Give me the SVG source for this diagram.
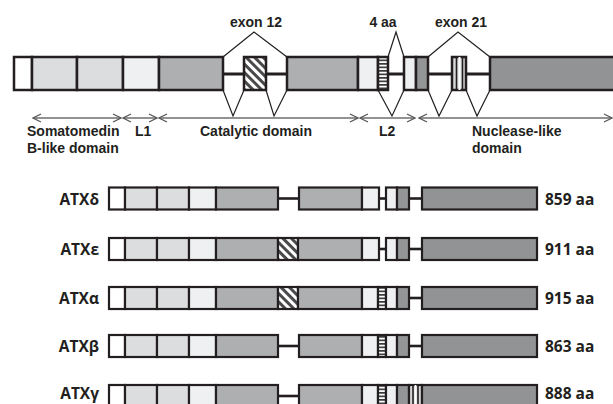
<svg xmlns="http://www.w3.org/2000/svg" width="613" height="404" viewBox="0 0 613 404">
<style>
.top rect{stroke:#231f20;stroke-width:2.5}
.iso rect{stroke:#231f20;stroke-width:2.2}
.w{fill:#ffffff}
.lg{fill:#dcdddf}
.vl{fill:#eff0f1}
.g{fill:#aeafb1}
.g2{fill:#949597}
.dg{fill:#929395}
.hatch{fill:url(#diag)}
.hs{fill:url(#hstr)}
.link{stroke:#231f20;stroke-width:3;fill:none}
.splice{stroke:#231f20;stroke-width:1.2;fill:none;stroke-linejoin:miter}
.dom{stroke:#6d6e70;stroke-width:1.3;fill:none;marker-start:url(#chev);marker-end:url(#chev)}
.t{font-family:"Liberation Sans",Arial,sans-serif;font-weight:bold;font-size:14px;fill:#231f20}
.lab{font-family:"Open Sans","Liberation Sans",sans-serif;font-weight:bold;font-size:15.5px;fill:#231f20}
</style>
<defs>
<pattern id="diag" patternUnits="userSpaceOnUse" width="6" height="6" patternTransform="rotate(-45)">
<rect x="0" y="0" width="6" height="6" fill="#ffffff"/>
<rect x="0" y="0" width="3" height="6" fill="#4a4a4c"/>
</pattern>
<pattern id="hstr" patternUnits="userSpaceOnUse" width="4" height="3.5">
<rect x="0" y="0" width="4" height="3.5" fill="#ffffff"/>
<rect x="0" y="0" width="4" height="1.7" fill="#3a3a3c"/>
</pattern>
<marker id="chev" viewBox="0 0 10 10" refX="9" refY="5" markerWidth="10" markerHeight="10" markerUnits="userSpaceOnUse" orient="auto-start-reverse">
<path d="M1,1 L9,5 L1,9" fill="none" stroke="#555557" stroke-width="1.2"/>
</marker>
</defs>

<!-- connectors: linker lines and splicing lines -->
<g id="connectors">
<line class="link" x1="223" y1="74" x2="287" y2="74"/>
<line class="link" x1="388" y1="74" x2="404" y2="74"/>
<line class="link" x1="428" y1="74" x2="490" y2="74"/>
<polyline class="splice" points="223,57 254,32 287,57"/>
<polyline class="splice" points="223,90 233,116 244,90"/>
<polyline class="splice" points="266,90 274,116 287,90"/>
<polyline class="splice" points="388,57 396,32 404,57"/>
<polyline class="splice" points="378,90 392,116 404,90"/>
<polyline class="splice" points="428,57 458,32 490,57"/>
<polyline class="splice" points="428,90 439,116 452,90"/>
<polyline class="splice" points="466,90 477,116 490,90"/>
<line class="link" style="stroke-width:2.6" x1="278" y1="198.5" x2="299" y2="198.5"/>
<line class="link" style="stroke-width:2.6" x1="379" y1="198.5" x2="386" y2="198.5"/>
<line class="link" style="stroke-width:2.6" x1="409" y1="198.5" x2="422" y2="198.5"/>
<line class="link" style="stroke-width:2.6" x1="379" y1="249" x2="386" y2="249"/>
<line class="link" style="stroke-width:2.6" x1="409" y1="249" x2="422" y2="249"/>
<line class="link" style="stroke-width:2.6" x1="409" y1="298" x2="422" y2="298"/>
<line class="link" style="stroke-width:2.6" x1="278" y1="346" x2="299" y2="346"/>
<line class="link" style="stroke-width:2.6" x1="409" y1="346" x2="422" y2="346"/>
<line class="link" style="stroke-width:2.6" x1="278" y1="396" x2="299" y2="396"/>
</g>

<g id="full-length" class="top">
<rect class="w" x="14" y="57" width="18" height="33"/>
<rect class="lg" x="32" y="57" width="45" height="33"/>
<rect class="lg" x="77" y="57" width="46" height="33"/>
<rect class="vl" x="123" y="57" width="36" height="33"/>
<rect class="g" x="159" y="57" width="64" height="33"/>
<rect class="hatch" x="244" y="57" width="22" height="33"/>
<rect class="g" x="287" y="57" width="71" height="33"/>
<rect class="vl" x="358" y="57" width="20" height="33"/>
<rect class="hs" x="378" y="57" width="10" height="33"/>
<rect class="vl" x="404" y="57" width="12" height="33"/>
<rect class="g2" x="416" y="57" width="12" height="33"/>
<rect fill="#d6d7d9" x="452" y="57" width="14" height="33"/>
<line x1="456.5" y1="57" x2="456.5" y2="90" stroke="#231f20" stroke-width="1.6"/>
<line x1="459.5" y1="57" x2="459.5" y2="90" stroke="#ffffff" stroke-width="2"/>
<line x1="462.5" y1="57" x2="462.5" y2="90" stroke="#231f20" stroke-width="1.6"/>
<rect class="dg" x="490" y="57" width="130" height="33"/>
</g>

<g id="domains">
<line class="dom" x1="33" y1="118" x2="121" y2="118"/>
<line class="dom" x1="123" y1="118" x2="157" y2="118"/>
<line class="dom" x1="159" y1="118" x2="358" y2="118"/>
<line class="dom" x1="360" y1="118" x2="415" y2="118"/>
<line class="dom" x1="419" y1="118" x2="612" y2="118"/>
</g>

<g id="top-labels">
<text class="t" x="256" y="27" text-anchor="middle">exon 12</text>
<text class="t" x="383" y="27" text-anchor="middle">4 aa</text>
<text class="t" x="461" y="27" text-anchor="middle">exon 21</text>
<text class="t" x="27" y="136">Somatomedin</text>
<text class="t" x="27" y="153">B-like domain</text>
<text class="t" x="135" y="136">L1</text>
<text class="t" x="200" y="136">Catalytic domain</text>
<text class="t" x="379" y="136">L2</text>
<text class="t" x="472" y="136">Nuclease-like</text>
<text class="t" x="472" y="153">domain</text>
</g>

<g id="ATX-delta" class="iso">
<text class="lab" x="99" y="205" text-anchor="end">ATXδ</text>
<rect class="w" x="109" y="187.5" width="16" height="22"/>
<rect class="lg" x="125" y="187.5" width="32" height="22"/>
<rect class="lg" x="157" y="187.5" width="32" height="22"/>
<rect class="vl" x="189" y="187.5" width="27" height="22"/>
<rect class="g" x="216" y="187.5" width="62" height="22"/>
<rect class="g" x="299" y="187.5" width="63" height="22"/>
<rect class="vl" x="362" y="187.5" width="17" height="22"/>
<rect class="vl" x="386" y="187.5" width="11" height="22"/>
<rect class="g2" x="397" y="187.5" width="12" height="22"/>
<rect class="dg" x="422" y="187.5" width="115" height="22"/>
<text class="lab" x="545" y="205">859 aa</text>
</g>

<g id="ATX-epsilon" class="iso">
<text class="lab" x="99" y="255" text-anchor="end">ATXε</text>
<rect class="w" x="109" y="238" width="16" height="22"/>
<rect class="lg" x="125" y="238" width="32" height="22"/>
<rect class="lg" x="157" y="238" width="32" height="22"/>
<rect class="vl" x="189" y="238" width="27" height="22"/>
<rect class="g" x="216" y="238" width="62" height="22"/>
<rect class="hatch" x="278" y="238" width="20" height="22"/>
<rect class="g" x="298" y="238" width="64" height="22"/>
<rect class="vl" x="362" y="238" width="17" height="22"/>
<rect class="vl" x="386" y="238" width="11" height="22"/>
<rect class="g2" x="397" y="238" width="12" height="22"/>
<rect class="dg" x="422" y="238" width="115" height="22"/>
<text class="lab" x="545" y="255">911 aa</text>
</g>

<g id="ATX-alpha" class="iso">
<text class="lab" x="99" y="304" text-anchor="end">ATXα</text>
<rect class="w" x="109" y="287" width="16" height="22"/>
<rect class="lg" x="125" y="287" width="32" height="22"/>
<rect class="lg" x="157" y="287" width="32" height="22"/>
<rect class="vl" x="189" y="287" width="27" height="22"/>
<rect class="g" x="216" y="287" width="62" height="22"/>
<rect class="hatch" x="278" y="287" width="20" height="22"/>
<rect class="g" x="298" y="287" width="64" height="22"/>
<rect class="vl" x="362" y="287" width="16" height="22"/>
<rect class="hs" x="378" y="287" width="8" height="22"/>
<rect class="vl" x="386" y="287" width="11" height="22"/>
<rect class="g2" x="397" y="287" width="12" height="22"/>
<rect class="dg" x="422" y="287" width="115" height="22"/>
<text class="lab" x="545" y="304">915 aa</text>
</g>

<g id="ATX-beta" class="iso">
<text class="lab" x="99" y="352" text-anchor="end">ATXβ</text>
<rect class="w" x="109" y="335" width="16" height="22"/>
<rect class="lg" x="125" y="335" width="32" height="22"/>
<rect class="lg" x="157" y="335" width="32" height="22"/>
<rect class="vl" x="189" y="335" width="27" height="22"/>
<rect class="g" x="216" y="335" width="62" height="22"/>
<rect class="g" x="299" y="335" width="63" height="22"/>
<rect class="vl" x="362" y="335" width="16" height="22"/>
<rect class="hs" x="378" y="335" width="8" height="22"/>
<rect class="vl" x="386" y="335" width="11" height="22"/>
<rect class="g2" x="397" y="335" width="12" height="22"/>
<rect class="dg" x="422" y="335" width="115" height="22"/>
<text class="lab" x="545" y="352">863 aa</text>
</g>

<g id="ATX-gamma" class="iso">
<text class="lab" x="99" y="399" text-anchor="end">ATXγ</text>
<rect class="w" x="109" y="385" width="16" height="22"/>
<rect class="lg" x="125" y="385" width="32" height="22"/>
<rect class="lg" x="157" y="385" width="32" height="22"/>
<rect class="vl" x="189" y="385" width="27" height="22"/>
<rect class="g" x="216" y="385" width="62" height="22"/>
<rect class="g" x="299" y="385" width="63" height="22"/>
<rect class="vl" x="362" y="385" width="16" height="22"/>
<rect class="hs" x="378" y="385" width="8" height="22"/>
<rect class="vl" x="386" y="385" width="11" height="22"/>
<rect class="g2" x="397" y="385" width="12" height="22"/>
<rect fill="#d6d7d9" x="409" y="385" width="13" height="22"/>
<line x1="413" y1="385" x2="413" y2="407" stroke="#231f20" stroke-width="1.6"/>
<line x1="415.5" y1="385" x2="415.5" y2="407" stroke="#ffffff" stroke-width="1.8"/>
<line x1="418" y1="385" x2="418" y2="407" stroke="#231f20" stroke-width="1.6"/>
<rect class="dg" x="422" y="385" width="115" height="22"/>
<text class="lab" x="545" y="399">888 aa</text>
</g>
</svg>
